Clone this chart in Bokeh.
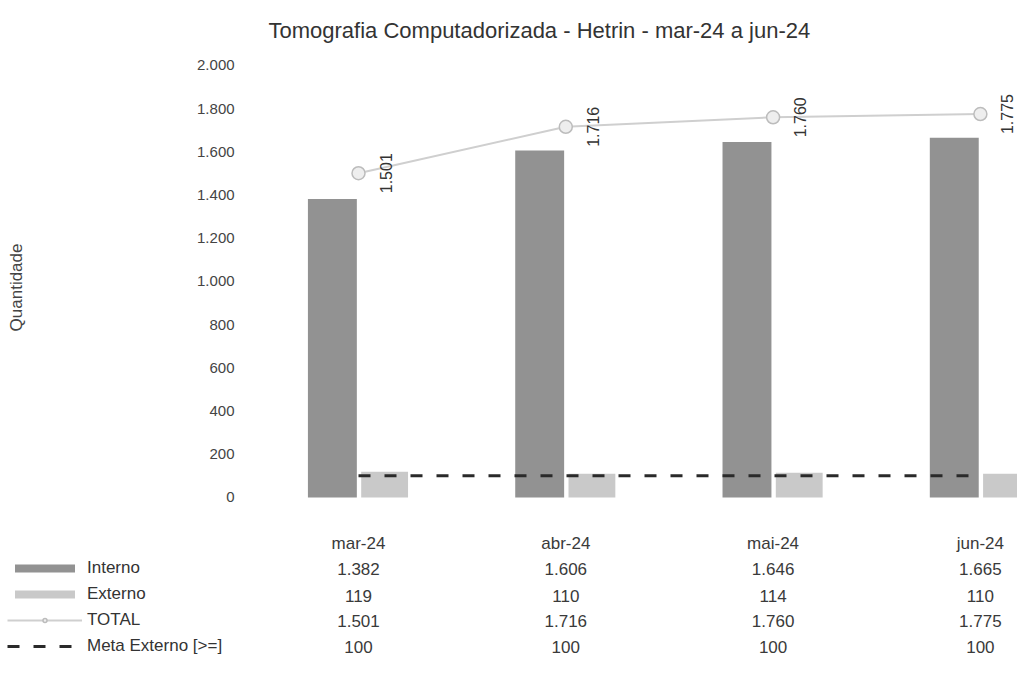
import math
from bokeh.plotting import figure
from bokeh.models import (Range1d, FixedTicker, CustomJSTickFormatter, Legend,
                          LegendItem, Label, ColumnDataSource)
from bokeh.transform import dodge
from bokeh.core.properties import value
from bokeh.embed import file_html
from bokeh.resources import INLINE

# ---- data ----
months = ["mar-24", "abr-24", "mai-24", "jun-24"]
interno = [1382, 1606, 1646, 1665]
externo = [119, 110, 114, 110]
total = [1501, 1716, 1760, 1775]
meta_externo = [100, 100, 100, 100]
y_ticks = [0, 200, 400, 600, 800, 1000, 1200, 1400, 1600, 1800, 2000]


def fmt(v):
    return f"{v:,}".replace(",", ".")


FONT = "Liberation Sans"
xs = list(range(len(months)))
src = ColumnDataSource(dict(
    x=xs, month=months, interno=interno, externo=externo, total=total,
    meta=meta_externo,
    interno_lbl=[fmt(v) for v in interno],
    externo_lbl=[fmt(v) for v in externo],
    total_lbl=[fmt(v) for v in total],
    meta_lbl=[fmt(v) for v in meta_externo],
))

X0, X1 = -1.727, 3.179            # visible x extent (category units)
AXIS_X = -0.511                    # where the value axis sits
Y0, Y1 = -741, 2083

p = figure(width=1017, height=663, output_backend="svg", toolbar_location=None,
           x_range=Range1d(X0, X1), y_range=Range1d(Y0, Y1),
           x_axis_location=None,
           min_border_left=0, min_border_right=0, min_border_top=47,
           min_border_bottom=6,
           title="Tomografia Computadorizada - Hetrin - mar-24 a jun-24")

p.title.text_font = FONT
p.title.text_font_size = "22px"
p.title.text_font_style = "normal"
p.title.text_color = "#333333"
p.title.align = "left"
p.title.offset = 268

p.outline_line_color = None
p.xgrid.visible = False
p.ygrid.visible = False
p.background_fill_color = "white"
p.border_fill_color = "white"

ax = p.yaxis[0]
ax.fixed_location = AXIS_X
ax.ticker = FixedTicker(ticks=y_ticks)
ax.formatter = CustomJSTickFormatter(
    code="return tick.toFixed(0).replace(/\\B(?=(\\d{3})+(?!\\d))/g, '.');")
ax.axis_line_color = None
ax.major_tick_line_color = None
ax.minor_tick_line_color = None
ax.major_label_text_font = FONT
ax.major_label_text_font_size = "15px"
ax.major_label_text_color = "#444444"
ax.major_label_standoff = 12

# bars
r_int = p.vbar(x=dodge("x", -0.126, range=p.x_range), top="interno", bottom=0,
               width=0.236, source=src, fill_color="#929292", line_color=None)
r_ext = p.vbar(x=dodge("x", 0.126, range=p.x_range), top="externo", bottom=0,
               width=0.226, source=src, fill_color="#c9c9c9", line_color=None)

# total line
r_tot_line = p.line(x="x", y="total", source=src, line_color="#cfcfcf", line_width=2)
r_tot_pts = p.scatter(x="x", y="total", source=src, marker="circle", size=13,
                      fill_color="#eeeeee", line_color="#bcbcbc", line_width=1.5)
p.text(x="x", y="total", text="total_lbl", source=src, angle=math.pi / 2,
       x_offset=27, text_align="center", text_baseline="middle",
       text_font=value(FONT), text_font_size="16px", text_color="#333333")

# meta line
r_meta = p.line(x="x", y="meta", source=src, line_color="#2a2a2a",
                line_width=3, line_dash="12 14")

# data table below the chart
rows = [("month", -213), ("interno_lbl", -329), ("externo_lbl", -458),
        ("total_lbl", -574), ("meta_lbl", -694)]
for col, yy in rows:
    p.text(x="x", y=yy, text=col, source=src, text_align="center",
           text_baseline="middle", text_font=value(FONT),
           text_font_size="17px", text_color="#3a3a3a")

legend = Legend(items=[
    LegendItem(label="Interno", renderers=[r_int]),
    LegendItem(label="Externo", renderers=[r_ext]),
    LegendItem(label="TOTAL", renderers=[r_tot_line, r_tot_pts]),
    LegendItem(label="Meta Externo [>=]", renderers=[r_meta]),
], location=(7, 1), border_line_color=None, background_fill_alpha=0,
    glyph_width=75, glyph_height=10, label_height=20, spacing=6, padding=0,
    margin=0, label_text_font=FONT, label_text_font_size="17px",
    label_text_color="#333333", label_standoff=5)
p.add_layout(legend)

p.add_layout(Label(x=16, y=972, x_units="screen", y_units="data",
                   text="Quantidade", angle=math.pi / 2, text_align="center",
                   text_baseline="middle", text_font=FONT,
                   text_font_size="17px", text_color="#444444"))

open("out.html", "w").write(file_html(p, INLINE))
